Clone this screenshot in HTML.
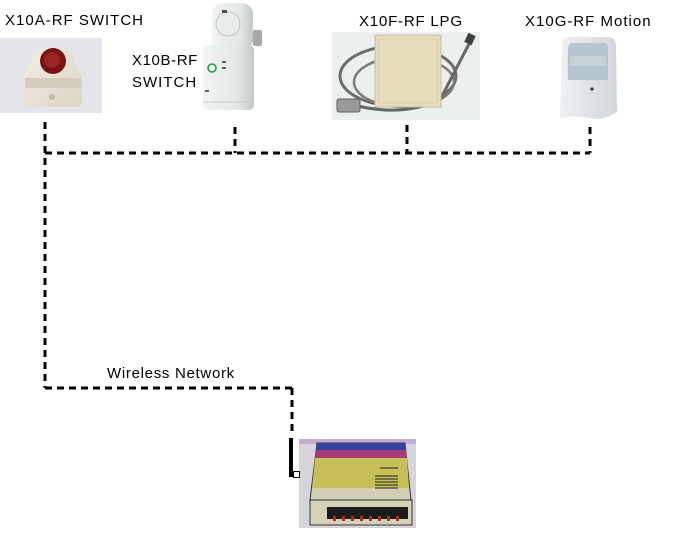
<!DOCTYPE html>
<html>
<head>
<meta charset="utf-8">
<style>
  html,body{margin:0;padding:0;background:#fff;}
  body{width:683px;height:552px;overflow:hidden;position:relative;}
  svg{position:absolute;left:0;top:0;}
  text{font-family:"Liberation Sans",Arial,sans-serif;font-size:15px;fill:#000;}
</style>
</head>
<body>
<svg width="683" height="552" viewBox="0 0 683 552" xmlns="http://www.w3.org/2000/svg">
  <defs>
    <linearGradient id="gA" x1="0" y1="0" x2="1" y2="1">
      <stop offset="0" stop-color="#f2efe6"/>
      <stop offset="1" stop-color="#dcd4c4"/>
    </linearGradient>
    <linearGradient id="gB" x1="0" y1="0" x2="1" y2="0">
      <stop offset="0" stop-color="#f2f4f4"/>
      <stop offset="0.7" stop-color="#e2e6e6"/>
      <stop offset="1" stop-color="#c4c8c8"/>
    </linearGradient>
    <linearGradient id="gG" x1="0" y1="0" x2="1" y2="0">
      <stop offset="0" stop-color="#eef0f2"/>
      <stop offset="1" stop-color="#d2d6da"/>
    </linearGradient>
  </defs>

  <!-- X10A image -->
  <rect x="0" y="38" width="102" height="75" fill="#e4e4ea"/>
  <path d="M31,62 Q31,47 53,47 Q75,47 75,62 L82,78 L82,100 Q82,107 75,107 L30,107 Q23,107 23,100 L23,78 Z" fill="url(#gA)"/>
  <rect x="25" y="78" width="56" height="10" fill="#d4ccbc"/>
  <circle cx="53" cy="61" r="13" fill="#7a1414"/>
  <circle cx="52" cy="60" r="8" fill="#9a2424"/>
  <circle cx="52" cy="97" r="3" fill="#c4bcaa"/>

  <!-- X10B image -->
  <rect x="253" y="30" width="9" height="16" rx="2" fill="#a4a8a8"/>
  <rect x="212" y="3" width="41" height="48" rx="11" fill="url(#gB)"/>
  <circle cx="228" cy="24" r="12" fill="#e8ecec" stroke="#c0c4c4" stroke-width="1"/>
  <rect x="222" y="10" width="5" height="3" fill="#505050"/>
  <rect x="203" y="45" width="51" height="65" rx="5" fill="url(#gB)"/>
  <line x1="203" y1="102" x2="254" y2="102" stroke="#c8cccc" stroke-width="1"/>
  <circle cx="212" cy="68" r="4" fill="none" stroke="#20a040" stroke-width="1.6"/>
  <rect x="222" y="61" width="4" height="2" fill="#606060"/>
  <rect x="222" y="67" width="4" height="2" fill="#606060"/>
  <rect x="205" y="90" width="4" height="2" fill="#606060"/>

  <!-- X10F image -->
  <rect x="332" y="32" width="148" height="88" fill="#ecefef"/>
  <ellipse cx="398" cy="76" rx="58" ry="30" fill="none" stroke="#6c6c6c" stroke-width="3"/>
  <ellipse cx="404" cy="82" rx="50" ry="25" fill="none" stroke="#7c7c7c" stroke-width="2.5"/>
  <path d="M350,104 Q400,118 440,100 L470,42" fill="none" stroke="#686868" stroke-width="3"/>
  <rect x="466" y="34" width="8" height="10" fill="#404040" transform="rotate(25 470 39)"/>
  <rect x="375" y="35" width="66" height="72" fill="#e6ddbc" stroke="#c6bd9e" stroke-width="1"/>
  <rect x="379" y="39" width="58" height="64" fill="none" stroke="#d6cdae" stroke-width="1"/>
  <rect x="337" y="99" width="23" height="13" rx="2" fill="#9a9a9a" stroke="#606060" stroke-width="1"/>

  <!-- X10G image -->
  <path d="M562,46 Q562,37 570,37 L608,37 Q616,37 616,46 L617,112 Q600,122 590,118 Q575,115 560,118 Z" fill="url(#gG)"/>
  <path d="M568,48 Q568,43 574,43 L603,43 Q608,43 608,48 L608,80 L568,80 Z" fill="#b6c6ce"/>
  <rect x="570" y="56" width="36" height="10" fill="#c4d2d8"/>
  <circle cx="592" cy="89" r="1.6" fill="#303030"/>

  <!-- Controller image -->
  <rect x="299" y="439" width="117" height="89" fill="#d8d4dc"/>
  <rect x="299" y="439" width="117" height="5" fill="#b890c8" opacity="0.6"/>
  <polygon points="317,443 405,443 411,500 310,500" fill="#d2ceb4" stroke="#303030" stroke-width="1"/>
  <polygon points="317,443 405,443 406,450 316,450" fill="#3444a0"/>
  <polygon points="316,450 406,450 407,458 315,458" fill="#a83c78"/>
  <polygon points="315,458 407,458 409,488 312,488" fill="#c6c058"/>
  <g stroke="#202020" stroke-width="1">
    <line x1="375" y1="476" x2="398" y2="476"/>
    <line x1="375" y1="479" x2="398" y2="479"/>
    <line x1="375" y1="482" x2="398" y2="482"/>
    <line x1="375" y1="485" x2="398" y2="485"/>
    <line x1="375" y1="488" x2="398" y2="488"/>
    <line x1="380" y1="468" x2="398" y2="468"/>
  </g>
  <rect x="310" y="500" width="102" height="25" fill="#d6d2b6" stroke="#303030" stroke-width="1"/>
  <rect x="327" y="507" width="81" height="12" fill="#1c1c1c"/>
  <g fill="#b03020">
    <rect x="333" y="516" width="3" height="5"/><rect x="342" y="516" width="3" height="5"/>
    <rect x="351" y="516" width="3" height="5"/><rect x="360" y="516" width="3" height="5"/>
    <rect x="369" y="516" width="3" height="5"/><rect x="378" y="516" width="3" height="5"/>
    <rect x="387" y="516" width="3" height="5"/><rect x="396" y="516" width="3" height="5"/>
  </g>

  <!-- Connectors -->
  <g stroke="#000" stroke-width="3" fill="none" stroke-dasharray="7 5">
    <line x1="45" y1="122" x2="45" y2="388"/>
    <line x1="45" y1="153" x2="590" y2="153"/>
    <line x1="235" y1="127" x2="235" y2="153"/>
    <line x1="407" y1="125" x2="407" y2="153"/>
    <line x1="590" y1="127" x2="590" y2="153"/>
    <line x1="45" y1="388" x2="292" y2="388"/>
    <line x1="292" y1="388" x2="292" y2="434"/>
  </g>
  <!-- Antenna -->
  <rect x="289" y="438" width="4" height="39" fill="#000"/>
  <rect x="293.5" y="471.5" width="6" height="6" fill="#fff" stroke="#000" stroke-width="1"/>

  <!-- Labels -->
  <text x="5" y="25" letter-spacing="1">X10A-RF SWITCH</text>
  <text x="132" y="65" letter-spacing="0.6">X10B-RF</text>
  <text x="132" y="87" letter-spacing="1">SWITCH</text>
  <text x="359" y="26" letter-spacing="0.8">X10F-RF LPG</text>
  <text x="525" y="26" letter-spacing="1">X10G-RF Motion</text>
  <text x="107" y="378" letter-spacing="0.7">Wireless Network</text>
</svg>
</body>
</html>
